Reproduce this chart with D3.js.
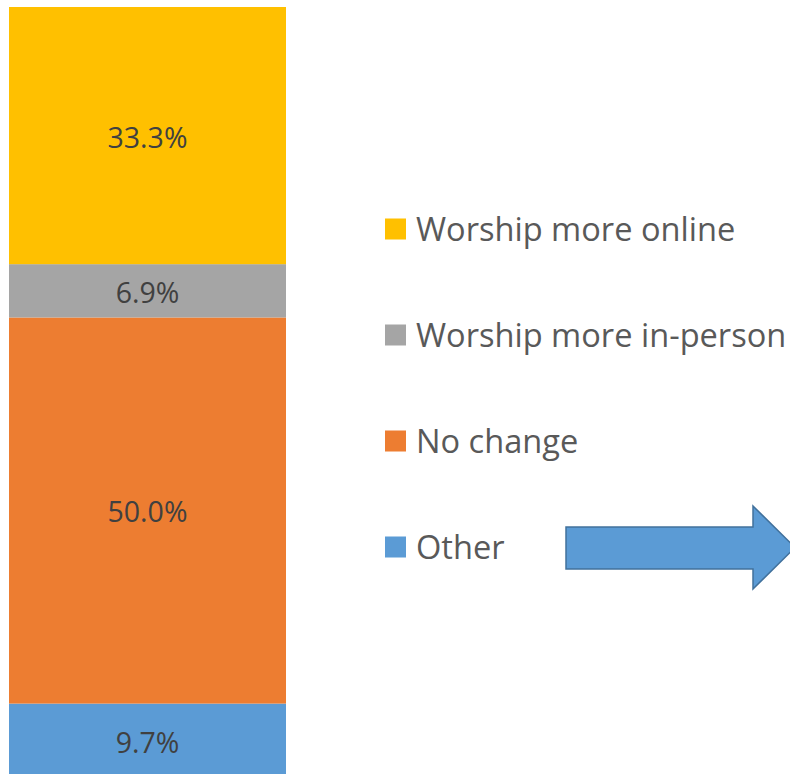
<!DOCTYPE html>
<html>
<head>
<meta charset="utf-8">
<script src="https://cdn.jsdelivr.net/npm/d3@7"></script>
<style>
  body { margin: 0; background: #fff; }
  svg { display: block; }
  text { font-family: "Open Sans", "Noto Sans", sans-serif; }
</style>
</head>
<body>
<svg id="chart"></svg>
<script>
const width = 790;
const height = 774;

// data, stacked bottom to top
const categories = ["Other", "No change", "Worship more in-person", "Worship more online"];
const values = [9.7, 50.0, 6.9, 33.3];
const labels = ["9.7%", "50.0%", "6.9%", "33.3%"];
const colors = ["#5B9BD5", "#ED7D31", "#A5A5A5", "#FFC000"];
// legend order, top to bottom
const legendOrder = ["Worship more online", "Worship more in-person", "No change", "Other"];

const svg = d3.select("#chart")
  .attr("width", width)
  .attr("height", height);

const total = d3.sum(values);

// y scale: bar runs a bit past the bottom edge of the picture
const yScale = d3.scaleLinear()
  .domain([0, total])
  .range([778.5, 7]);

const xScale = d3.scaleBand()
  .domain(["all"])
  .range([9, 286])
  .padding(0);

let acc = 0;
const stacked = values.map((v, i) => {
  const d = { cat: categories[i], y0: acc, y1: acc + v, label: labels[i], color: colors[i] };
  acc += v;
  return d;
});

const bar = svg.append("g");

bar.selectAll("rect")
  .data(stacked)
  .enter().append("rect")
  .attr("x", xScale("all"))
  .attr("width", xScale.bandwidth())
  .attr("y", d => yScale(d.y1))
  .attr("height", d => yScale(d.y0) - yScale(d.y1))
  .attr("fill", d => d.color);

bar.selectAll("text")
  .data(stacked)
  .enter().append("text")
  .attr("x", xScale("all") + xScale.bandwidth() / 2)
  .attr("y", d => (yScale(d.y0) + yScale(d.y1)) / 2)
  .attr("dy", "0.42em")
  .attr("text-anchor", "middle")
  .attr("font-size", 28.5)
  .attr("fill", "#404040")
  .text(d => d.label);

// legend
const legendY = d3.scalePoint()
  .domain(legendOrder)
  .range([229, 547]);

const legend = svg.append("g");
const item = legend.selectAll("g")
  .data(legendOrder)
  .enter().append("g")
  .attr("transform", d => "translate(385," + legendY(d) + ")");

item.append("rect")
  .attr("x", 0)
  .attr("y", -10.5)
  .attr("width", 21)
  .attr("height", 21)
  .attr("fill", d => colors[categories.indexOf(d)]);

item.append("text")
  .attr("x", 31)
  .attr("dy", "0.36em")
  .attr("font-size", 32.6)
  .attr("fill", "#595959")
  .text(d => d);

// arrow pointing right
const arrow = d3.path();
arrow.moveTo(566, 527);
arrow.lineTo(753, 527);
arrow.lineTo(753, 506);
arrow.lineTo(795, 547.5);
arrow.lineTo(753, 589);
arrow.lineTo(753, 569);
arrow.lineTo(566, 569);
arrow.closePath();

svg.append("path")
  .attr("d", arrow.toString())
  .attr("fill", "#5B9BD5")
  .attr("stroke", "#41719C")
  .attr("stroke-width", 1.5);
</script>
</body>
</html>
